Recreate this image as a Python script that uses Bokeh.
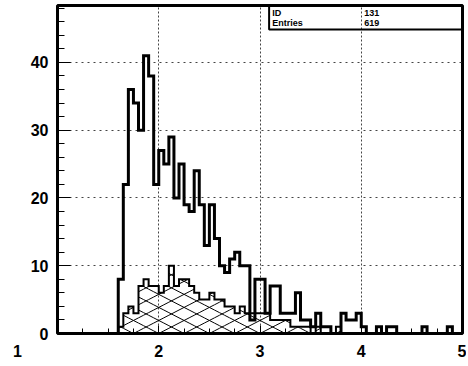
import numpy as np
from bokeh.plotting import figure
from bokeh.models import Range1d, SingleIntervalTicker, Label, BoxAnnotation
from bokeh.embed import file_html
from bokeh.resources import INLINE

# ---- data -------------------------------------------------------------
bin_start = 1.60
bin_width = 0.05
main_counts = [
    8, 22, 36, 34, 30, 41, 38, 22, 27, 25,
    29, 20, 25, 19, 18, 24, 19, 13, 19, 14,
    10, 9, 11, 12, 10, 10, 2, 8, 8, 3,
    7, 7, 3, 3, 3, 6, 2, 2, 1, 3,
    1, 1, 0, 0, 3, 2, 2, 3, 1, 0,
    0, 1, 0, 1, 1, 0, 0, 0, 0, 0,
    1, 0, 0, 0, 0, 1, 0, 0,
]
hatch_counts = [
    1, 3, 4, 3, 7, 8, 7, 7, 6, 7,
    10, 7, 8, 8, 7, 6, 5, 5, 6, 5,
    5, 4, 4, 3, 4, 3, 3, 3, 3, 3,
    2, 2, 2, 2, 1, 1, 1, 1, 0, 1,
    0, 0, 0, 1,
]
x_min, x_max = 1, 5
y_min, y_max = 0, 48.4
stats_names = ["ID", "Entries"]
stats_values = ["131", "619"]

# ---- layout -----------------------------------------------------------
W, H = 466, 362
BL, BR, BT, BB = 57, 4, 5, 26
FONT = "Liberation Sans"

p = figure(width=W, height=H, x_range=Range1d(x_min, x_max), y_range=Range1d(y_min, y_max),
           output_backend="svg", toolbar_location=None,
           min_border_left=BL, min_border_right=BR, min_border_top=BT, min_border_bottom=BB)
p.background_fill_color = "white"
p.border_fill_color = "white"
p.outline_line_color = "black"
p.outline_line_width = 3

xt = SingleIntervalTicker(interval=1, num_minor_ticks=4)
yt = SingleIntervalTicker(interval=10, num_minor_ticks=5)
p.xaxis.ticker = xt
p.yaxis.ticker = yt
p.xgrid.ticker = xt
p.ygrid.ticker = yt
for g, dash in ((p.xgrid, "2 2"), (p.ygrid, "2 4")):
    g.grid_line_color = "#444444"
    g.grid_line_width = 1
    g.grid_line_dash = dash

for ax in (p.xaxis, p.yaxis):
    ax.axis_line_color = None
    ax.major_tick_out = 0
    ax.minor_tick_out = 0
    ax.major_tick_line_color = "black"
    ax.minor_tick_line_color = "black"
    ax.major_label_text_font = FONT
    ax.major_label_text_font_style = "bold"
    ax.major_label_text_font_size = "16px"
    ax.major_label_text_color = "black"
p.xaxis.major_tick_in = 8
p.xaxis.minor_tick_in = 5
p.yaxis.major_tick_in = 13
p.yaxis.minor_tick_in = 7
p.yaxis.major_label_standoff = 9
p.xaxis.major_label_standoff = 9
# the first x label sits well left of its tick in the original: pad it with no-break spaces
p.xaxis.major_label_overrides = {1: str(x_min) + "\u00a0" * 18}


def outline(counts):
    c = np.asarray(counts, float)
    edges = bin_start + bin_width * np.arange(len(c) + 1)
    xs = np.concatenate([[edges[0]], np.repeat(edges, 2)[1:-1], [edges[-1]]])
    ys = np.concatenate([[0.0], np.repeat(c, 2), [0.0]])
    return xs, ys


# cross-hatching of the second histogram (lines of slope +-0.52 on screen)
fw, fh = W - BL - BR, H - BT - BB
k = 0.52 * (fw / (x_max - x_min)) / (fh / (y_max - y_min))
step = 0.25
anchors = np.arange(x_min - 2, x_max + 2 + 1e-9, step)
hc = np.asarray(hatch_counts, float)
lefts = bin_start + bin_width * np.arange(len(hc))
sx0, sy0, sx1, sy1 = [], [], [], []
for a, h in zip(lefts, hc):
    b = a + bin_width
    if h <= 0:
        continue
    for x0 in anchors:
        lo, hi = max(a, x0), min(b, x0 + h / k)
        if hi > lo:
            sx0.append(lo); sy0.append(k * (lo - x0)); sx1.append(hi); sy1.append(k * (hi - x0))
        lo, hi = max(a, x0 - h / k), min(b, x0)
        if hi > lo:
            sx0.append(lo); sy0.append(k * (x0 - lo)); sx1.append(hi); sy1.append(k * (x0 - hi))
p.segment(sx0, sy0, sx1, sy1, line_color="black", line_width=1)

hx, hy = outline(hatch_counts)
p.line(hx, hy, line_color="black", line_width=2, line_join="miter")
mx, my = outline(main_counts)
p.line(mx, my, line_color="black", line_width=3, line_join="miter")

# statistics box
p.add_layout(BoxAnnotation(left=3.09, bottom=44.85, fill_alpha=0, line_color="black",
                           line_width=2, line_alpha=1))
for i, (n, v) in enumerate(zip(stats_names, stats_values)):
    yy = 47.27 - 1.46 * i
    for xx, t in ((3.12, n), (4.03, v)):
        p.add_layout(Label(x=xx, y=yy, text=t, text_font=FONT, text_font_style="bold",
                           text_font_size="9px", text_baseline="middle", text_color="black"))

open("out.html", "w").write(file_html(p, INLINE))
